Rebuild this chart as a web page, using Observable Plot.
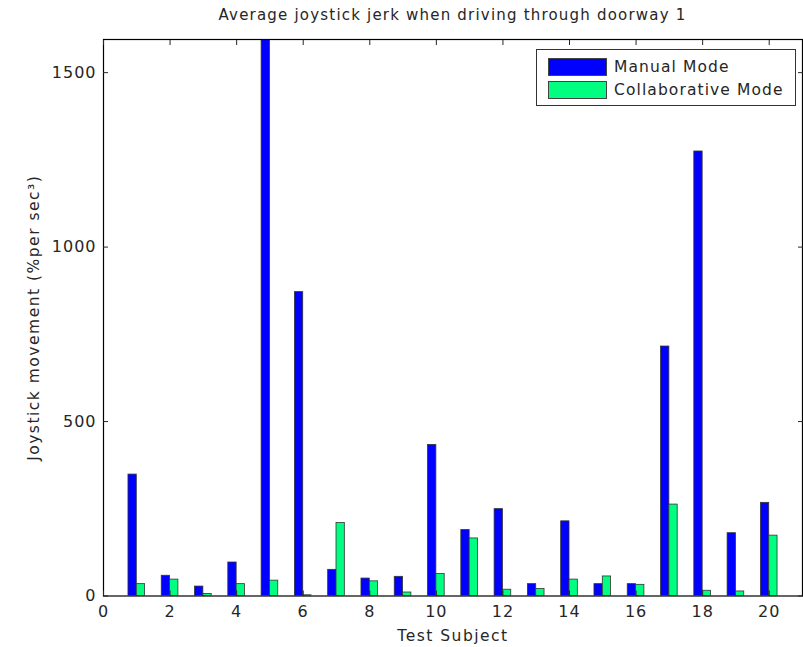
<!DOCTYPE html>
<html>
<head>
<meta charset="utf-8">
<script src="https://cdn.jsdelivr.net/npm/d3@7"></script>
<script src="https://cdn.jsdelivr.net/npm/@observablehq/plot@0.6"></script>
<style>
  html, body { margin: 0; padding: 0; background: #fff; }
  #wrap { position: relative; width: 803px; height: 647px; font-family: "DejaVu Sans", sans-serif; color: #262626; }
  #title { height: 30px; box-sizing: border-box; padding: 6px 1px 0 103px; text-align: center; font-size: 15px; line-height: 18px; letter-spacing: 1.2px; }
  #legend { position: absolute; left: 536px; top: 49px; width: 260px; height: 57px; box-sizing: border-box; border: 1px solid #333; background: #fff; padding: 5px 0 0 11px; }
  .row { display: flex; align-items: center; height: 23px; font-size: 15.5px; letter-spacing: 1.1px; }
  .sw { width: 59px; height: 18px; box-sizing: border-box; border: 1px solid #444; margin-right: 7px; }
  svg { display: block; }
  svg text { letter-spacing: 1.5px; }
  svg g[aria-label="x-axis tick label"] text, svg g[aria-label="y-axis tick label"] text { font-size: 16px; letter-spacing: 1px; }
</style>
</head>
<body>
<div id="wrap">
  <div id="title">Average joystick jerk when driving through doorway 1</div>
  <div id="chart"></div>
  <div id="legend"></div>
</div>
<script>
const subjects = [1,2,3,4,5,6,7,8,9,10,11,12,13,14,15,16,17,18,19,20];
const manual = [348, 58, 27, 96, 1600, 871, 75, 50, 55, 433, 189, 249, 34, 214, 34, 34, 715, 1274, 180, 267];
const collaborative = [34, 47, 6, 34, 44, 2, 209, 42, 10, 63, 165, 18, 20, 47, 56, 32, 262, 15, 13, 173];
const seriesNames = ["Manual Mode", "Collaborative Mode"];
const seriesColors = ["#0000ff", "#00ff80"];
const xTicks = [0,2,4,6,8,10,12,14,16,18,20];
const yTicks = [0,500,1000,1500];

const data = subjects.map((s, i) => ({subject: s, manual: manual[i], collaborative: collaborative[i]}));
const bw = 0.25;

const chart = Plot.plot({
  width: 803,
  height: 617,
  marginTop: 9,
  marginBottom: 51.5,
  marginLeft: 103,
  marginRight: 1,
  style: {fontFamily: "DejaVu Sans, sans-serif", fontSize: "15.5px", color: "#262626", background: "#fff"},
  x: {domain: [0, 21]},
  y: {domain: [0, 1595]},
  marks: [
    Plot.rect(data, {x1: d => d.subject - bw, x2: d => d.subject, y1: 0, y2: d => d.manual, fill: seriesColors[0], stroke: "#333", strokeWidth: 0.8, clip: true}),
    Plot.rect(data, {x1: d => d.subject, x2: d => d.subject + bw, y1: 0, y2: d => d.collaborative, fill: seriesColors[1], stroke: "#333", strokeWidth: 0.8, clip: true}),
    Plot.frame({stroke: "#000", strokeWidth: 1.2}),
    Plot.axisX({ticks: xTicks, tickSize: -5, tickPadding: 15, tickFormat: d => String(d), label: "Test Subject", labelAnchor: "center", labelOffset: 45, labelArrow: "none"}),
    Plot.axisX({anchor: "top", ticks: xTicks, tickSize: -5, tickFormat: () => "", label: null}),
    Plot.axisY({ticks: yTicks, tickSize: -5, tickPadding: 12, tickFormat: d => String(d), label: "Joystick movement (%per sec³)", labelAnchor: "center", labelOffset: 76, labelArrow: "none"}),
    Plot.axisY({anchor: "right", ticks: yTicks, tickSize: -5, tickFormat: () => "", label: null})
  ]
});
document.getElementById("chart").appendChild(chart);

const legend = document.getElementById("legend");
seriesNames.forEach((name, i) => {
  const row = document.createElement("div");
  row.className = "row";
  const sw = document.createElement("div");
  sw.className = "sw";
  sw.style.background = seriesColors[i];
  const t = document.createElement("span");
  t.textContent = name;
  row.appendChild(sw);
  row.appendChild(t);
  legend.appendChild(row);
});
</script>
</body>
</html>
